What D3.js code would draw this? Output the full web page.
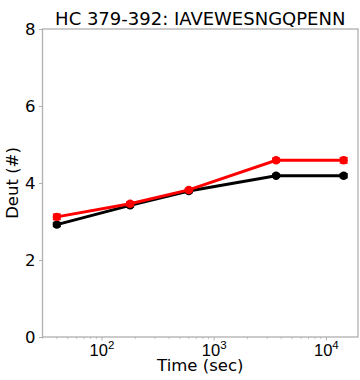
<!DOCTYPE html>
<html>
<head>
<meta charset="utf-8">
<script src="https://cdn.jsdelivr.net/npm/d3@7"></script>
<style>
  html, body { margin: 0; padding: 0; background: #fff; }
  svg { display: block; font-family: "DejaVu Sans", sans-serif; }
</style>
</head>
<body>
<svg id="chart" width="360" height="380"></svg>
<script>
// Exchange times (seconds) and deuterium uptake per state
const times = [40, 180, 600, 3600, 14400];
const blackValues = [2.92, 3.42, 3.79, 4.19, 4.19];
const blackErrors = [0.05, 0.04, 0.04, 0.04, 0.05];
const redValues = [3.12, 3.46, 3.82, 4.59, 4.59];
const redErrors = [0.07, 0.05, 0.04, 0.05, 0.07];
const yTicks = [0, 2, 4, 6, 8];
const xTicks = [100, 1000, 10000];
const titleText = "HC 379-392: IAVEWESNGQPENN";

const series = [
  { color: "#000000", values: blackValues, errors: blackErrors },
  { color: "#ff0000", values: redValues, errors: redErrors }
];

const svg = d3.select("#chart");
const margin = { left: 42.5, right: 2, top: 29, bottom: 43 };
const W = 360, H = 380;
const innerW = W - margin.left - margin.right;
const innerH = H - margin.top - margin.bottom;

// log x-domain padded 5% on each side in log space
const lmin = Math.log10(d3.min(times)), lmax = Math.log10(d3.max(times));
const pad = (lmax - lmin) * 0.05;
const x = d3.scaleLog()
  .domain([Math.pow(10, lmin - pad), Math.pow(10, lmax + pad)])
  .range([margin.left, margin.left + innerW]);
const y = d3.scaleLinear().domain([0, 8]).range([margin.top + innerH, margin.top]);

const axisColor = "#b0b0b0";
const fontSize = 16.5;

// minor x ticks
const minor = [];
const [d0, d1] = x.domain();
for (let e = Math.floor(Math.log10(d0)); e <= Math.ceil(Math.log10(d1)); e++) {
  for (let m = 2; m <= 9; m++) {
    const v = m * Math.pow(10, e);
    if (v >= d0 && v <= d1) minor.push(v);
  }
}
const g = svg.append("g");
g.selectAll(".minor").data(minor).join("line")
  .attr("x1", d => x(d)).attr("x2", d => x(d))
  .attr("y1", margin.top + innerH).attr("y2", margin.top + innerH + 2)
  .attr("stroke", axisColor).attr("stroke-width", 0.8);

// x axis
const xAxis = d3.axisBottom(x).tickValues(xTicks).tickSize(3.5).tickFormat("");
const gx = svg.append("g").attr("transform", `translate(0,${margin.top + innerH})`).call(xAxis);
gx.select(".domain").remove();
gx.selectAll(".tick line").attr("stroke", axisColor).attr("stroke-width", 1);
gx.selectAll(".tick").each(function(d) {
  const t = d3.select(this).append("text")
    .attr("y", 18.5).attr("text-anchor", "middle")
    .attr("fill", "#000").attr("font-size", fontSize);
  t.append("tspan").text("10");
  t.append("tspan").attr("dy", -6.5).attr("font-size", fontSize * 0.7).text(Math.round(Math.log10(d)));
});

// y axis
const yAxis = d3.axisLeft(y).tickValues(yTicks).tickSize(3.5).tickPadding(3.5);
const gy = svg.append("g").attr("transform", `translate(${margin.left},0)`).call(yAxis);
gy.select(".domain").remove();
gy.selectAll(".tick line").attr("stroke", axisColor).attr("stroke-width", 1);
gy.selectAll(".tick text").attr("font-size", fontSize).attr("fill", "#000")
  .attr("font-family", "DejaVu Sans, sans-serif");

// frame
svg.append("rect")
  .attr("x", margin.left).attr("y", margin.top)
  .attr("width", innerW).attr("height", innerH)
  .attr("fill", "none").attr("stroke", axisColor).attr("stroke-width", 1.3);

// data
const line = d3.line().x((d, i) => x(times[i])).y(d => y(d));
series.forEach(s => {
  const sg = svg.append("g");
  sg.append("path").datum(s.values)
    .attr("d", line).attr("fill", "none")
    .attr("stroke", s.color).attr("stroke-width", 3);
  sg.selectAll(".err").data(s.values).join("line")
    .attr("x1", (d, i) => x(times[i])).attr("x2", (d, i) => x(times[i]))
    .attr("y1", (d, i) => y(d - s.errors[i])).attr("y2", (d, i) => y(d + s.errors[i]))
    .attr("stroke", s.color).attr("stroke-width", 2);
  sg.selectAll(".cap").data(s.values.flatMap((d, i) => [
      { t: times[i], v: d - s.errors[i] }, { t: times[i], v: d + s.errors[i] }]))
    .join("line")
    .attr("x1", d => x(d.t) - 4).attr("x2", d => x(d.t) + 4)
    .attr("y1", d => y(d.v)).attr("y2", d => y(d.v))
    .attr("stroke", s.color).attr("stroke-width", 1.5);
  sg.selectAll("circle").data(s.values).join("circle")
    .attr("cx", (d, i) => x(times[i])).attr("cy", d => y(d))
    .attr("r", 4.2).attr("fill", s.color);
});

// labels
svg.append("text").attr("x", margin.left + innerW / 2).attr("y", 25)
  .attr("text-anchor", "middle").attr("font-size", 18).attr("fill", "#000")
  .text(titleText);
svg.append("text").attr("x", margin.left + innerW / 2).attr("y", 371)
  .attr("text-anchor", "middle").attr("font-size", fontSize).attr("fill", "#000")
  .text("Time (sec)");
svg.append("text")
  .attr("transform", `translate(18,${margin.top + innerH / 2}) rotate(-90)`)
  .attr("text-anchor", "middle").attr("font-size", fontSize).attr("fill", "#000")
  .text("Deut (#)");
</script>
</body>
</html>
